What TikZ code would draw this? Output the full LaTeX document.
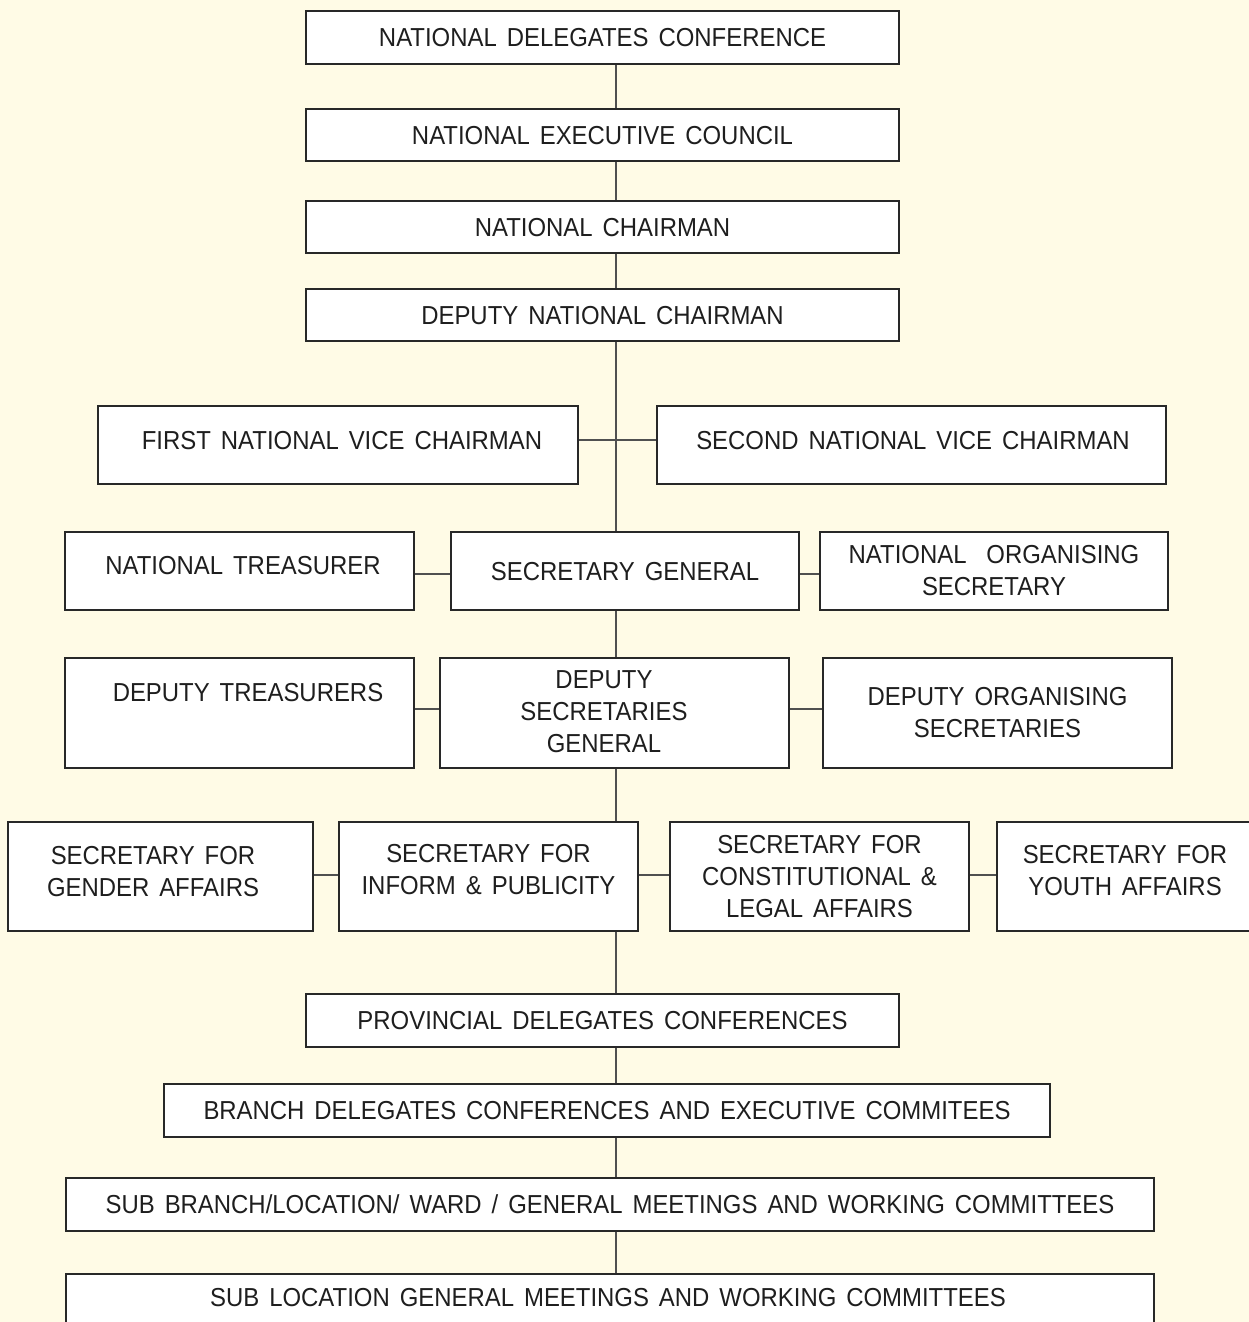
\documentclass[tikz,border=0pt]{standalone}
\usepackage{fontspec}
\setmainfont{Liberation Sans}[FakeStretch=0.92, WordSpace=1.5]
\definecolor{bgcream}{RGB}{255,251,230}
\definecolor{boxline}{RGB}{40,40,40}
\definecolor{connline}{RGB}{80,80,80}
\definecolor{inktext}{RGB}{30,30,30}
\begin{document}
\begin{tikzpicture}[x=1pt,y=-1pt,
  box/.style={draw=boxline, line width=1.3pt, fill=white, rectangle, inner sep=0pt,
    font=\fontsize{26}{32}\selectfont, align=center, text=inktext},
  txt/.style={inner sep=0pt, font=\fontsize{26}{32}\selectfont, align=center, text=inktext},
  one/.style={text height=18.6pt, text depth=0pt},
  conn/.style={draw=connline, line width=1.1pt}]
\useasboundingbox (0,0) rectangle (1249,1322);
\fill[bgcream] (0,0) rectangle (1249,1322);
\clip (0,0) rectangle (1249,1322);
\coordinate (spine) at (616,0);
\coordinate (r1) at (0,440);
\coordinate (r2) at (0,574);
\coordinate (r3) at (0,709);
\coordinate (r4) at (0,875);

% top column
\node[box, one, minimum width=593, minimum height=53] (ndc) at (602.5,37.5) {NATIONAL DELEGATES CONFERENCE};
\node[box, one, minimum width=593, minimum height=52] (nec) at (602.5,135) {NATIONAL EXECUTIVE COUNCIL};
\node[box, one, minimum width=593, minimum height=52] (nc) at (602.5,227) {NATIONAL CHAIRMAN};
\node[box, one, minimum width=593, minimum height=52] (dnc) at (602.5,315) {DEPUTY NATIONAL CHAIRMAN};

% vice chairmen
\node[box, minimum width=480, minimum height=78] (fnvc) at (338,445) {};
\node[txt, one] (fnvct) at (342,440) {FIRST NATIONAL VICE CHAIRMAN};
\node[box, minimum width=509, minimum height=78] (snvc) at (911.5,445) {};
\node[txt, one] (snvct) at (913,440) {SECOND NATIONAL VICE CHAIRMAN};

% secretary general row
\node[box, minimum width=349, minimum height=78] (nt) at (239.5,571) {};
\node[txt, one] (ntt) at (243,565) {NATIONAL TREASURER};
\node[box, one, minimum width=348, minimum height=78] (sg) at (625,571) {SECRETARY GENERAL};
\node[box, minimum width=348, minimum height=78] (nos) at (994,571) {NATIONAL\ \ ORGANISING\\SECRETARY};

% deputies row
\node[box, minimum width=349, minimum height=110] (dt) at (239.5,713) {};
\node[txt, one] (dtt) at (248,692) {DEPUTY TREASURERS};
\node[box, minimum width=349, minimum height=110] (dsg) at (614.5,713) {};
\node[txt] (dsgt) at (604,712) {DEPUTY\\SECRETARIES\\GENERAL};
\node[box, minimum width=349, minimum height=110] (dos) at (997.5,713) {DEPUTY ORGANISING\\SECRETARIES};

% secretaries row
\node[box, minimum width=305, minimum height=109] (sga) at (160.5,876.5) {};
\node[txt] (sgat) at (153,872) {SECRETARY FOR\\GENDER AFFAIRS};
\node[box, minimum width=299, minimum height=109] (sip) at (488.5,876.5) {};
\node[txt] (sipt) at (488.5,870) {SECRETARY FOR\\INFORM \& PUBLICITY};
\node[box, minimum width=299, minimum height=109] (scl) at (819.5,876.5) {SECRETARY FOR\\CONSTITUTIONAL \&\\LEGAL AFFAIRS};
\node[box, minimum width=262, minimum height=109] (sya) at (1128,876.5) {};
\node[txt] (syat) at (1125,871) {SECRETARY FOR\\YOUTH AFFAIRS};

% lower column
\node[box, one, minimum width=593, minimum height=53] (pdc) at (602.5,1020.5) {PROVINCIAL DELEGATES CONFERENCES};
\node[box, one, minimum width=886, minimum height=53] (bdc) at (607,1110.5) {BRANCH DELEGATES CONFERENCES AND EXECUTIVE COMMITEES};
\node[box, one, minimum width=1088, minimum height=53] (sbr) at (610,1204.5) {SUB BRANCH/LOCATION/ WARD / GENERAL MEETINGS AND WORKING COMMITTEES};
\node[box, minimum width=1088, minimum height=60] (sloc) at (610,1304) {};
\node[txt, one] (sloct) at (608,1297) {SUB LOCATION GENERAL MEETINGS AND WORKING COMMITTEES};

% vertical connectors
\draw[conn] (ndc.south -| spine) -- (nec.north -| spine);
\draw[conn] (nec.south -| spine) -- (nc.north -| spine);
\draw[conn] (nc.south -| spine) -- (dnc.north -| spine);
\draw[conn] (dnc.south -| spine) -- (sg.north -| spine);
\draw[conn] (sg.south -| spine) -- (dsg.north -| spine);
\draw[conn] (dsg.south -| spine) -- (sip.north -| spine);
\draw[conn] (sip.south -| spine) -- (pdc.north -| spine);
\draw[conn] (pdc.south -| spine) -- (bdc.north -| spine);
\draw[conn] (bdc.south -| spine) -- (sbr.north -| spine);
\draw[conn] (sbr.south -| spine) -- (sloc.north -| spine);

% horizontal connectors
\draw[conn] (fnvc.east |- r1) -- (snvc.west |- r1);
\draw[conn] (nt.east |- r2) -- (sg.west |- r2);
\draw[conn] (sg.east |- r2) -- (nos.west |- r2);
\draw[conn] (dt.east |- r3) -- (dsg.west |- r3);
\draw[conn] (dsg.east |- r3) -- (dos.west |- r3);
\draw[conn] (sga.east |- r4) -- (sip.west |- r4);
\draw[conn] (sip.east |- r4) -- (scl.west |- r4);
\draw[conn] (scl.east |- r4) -- (sya.west |- r4);
\end{tikzpicture}
\end{document}
